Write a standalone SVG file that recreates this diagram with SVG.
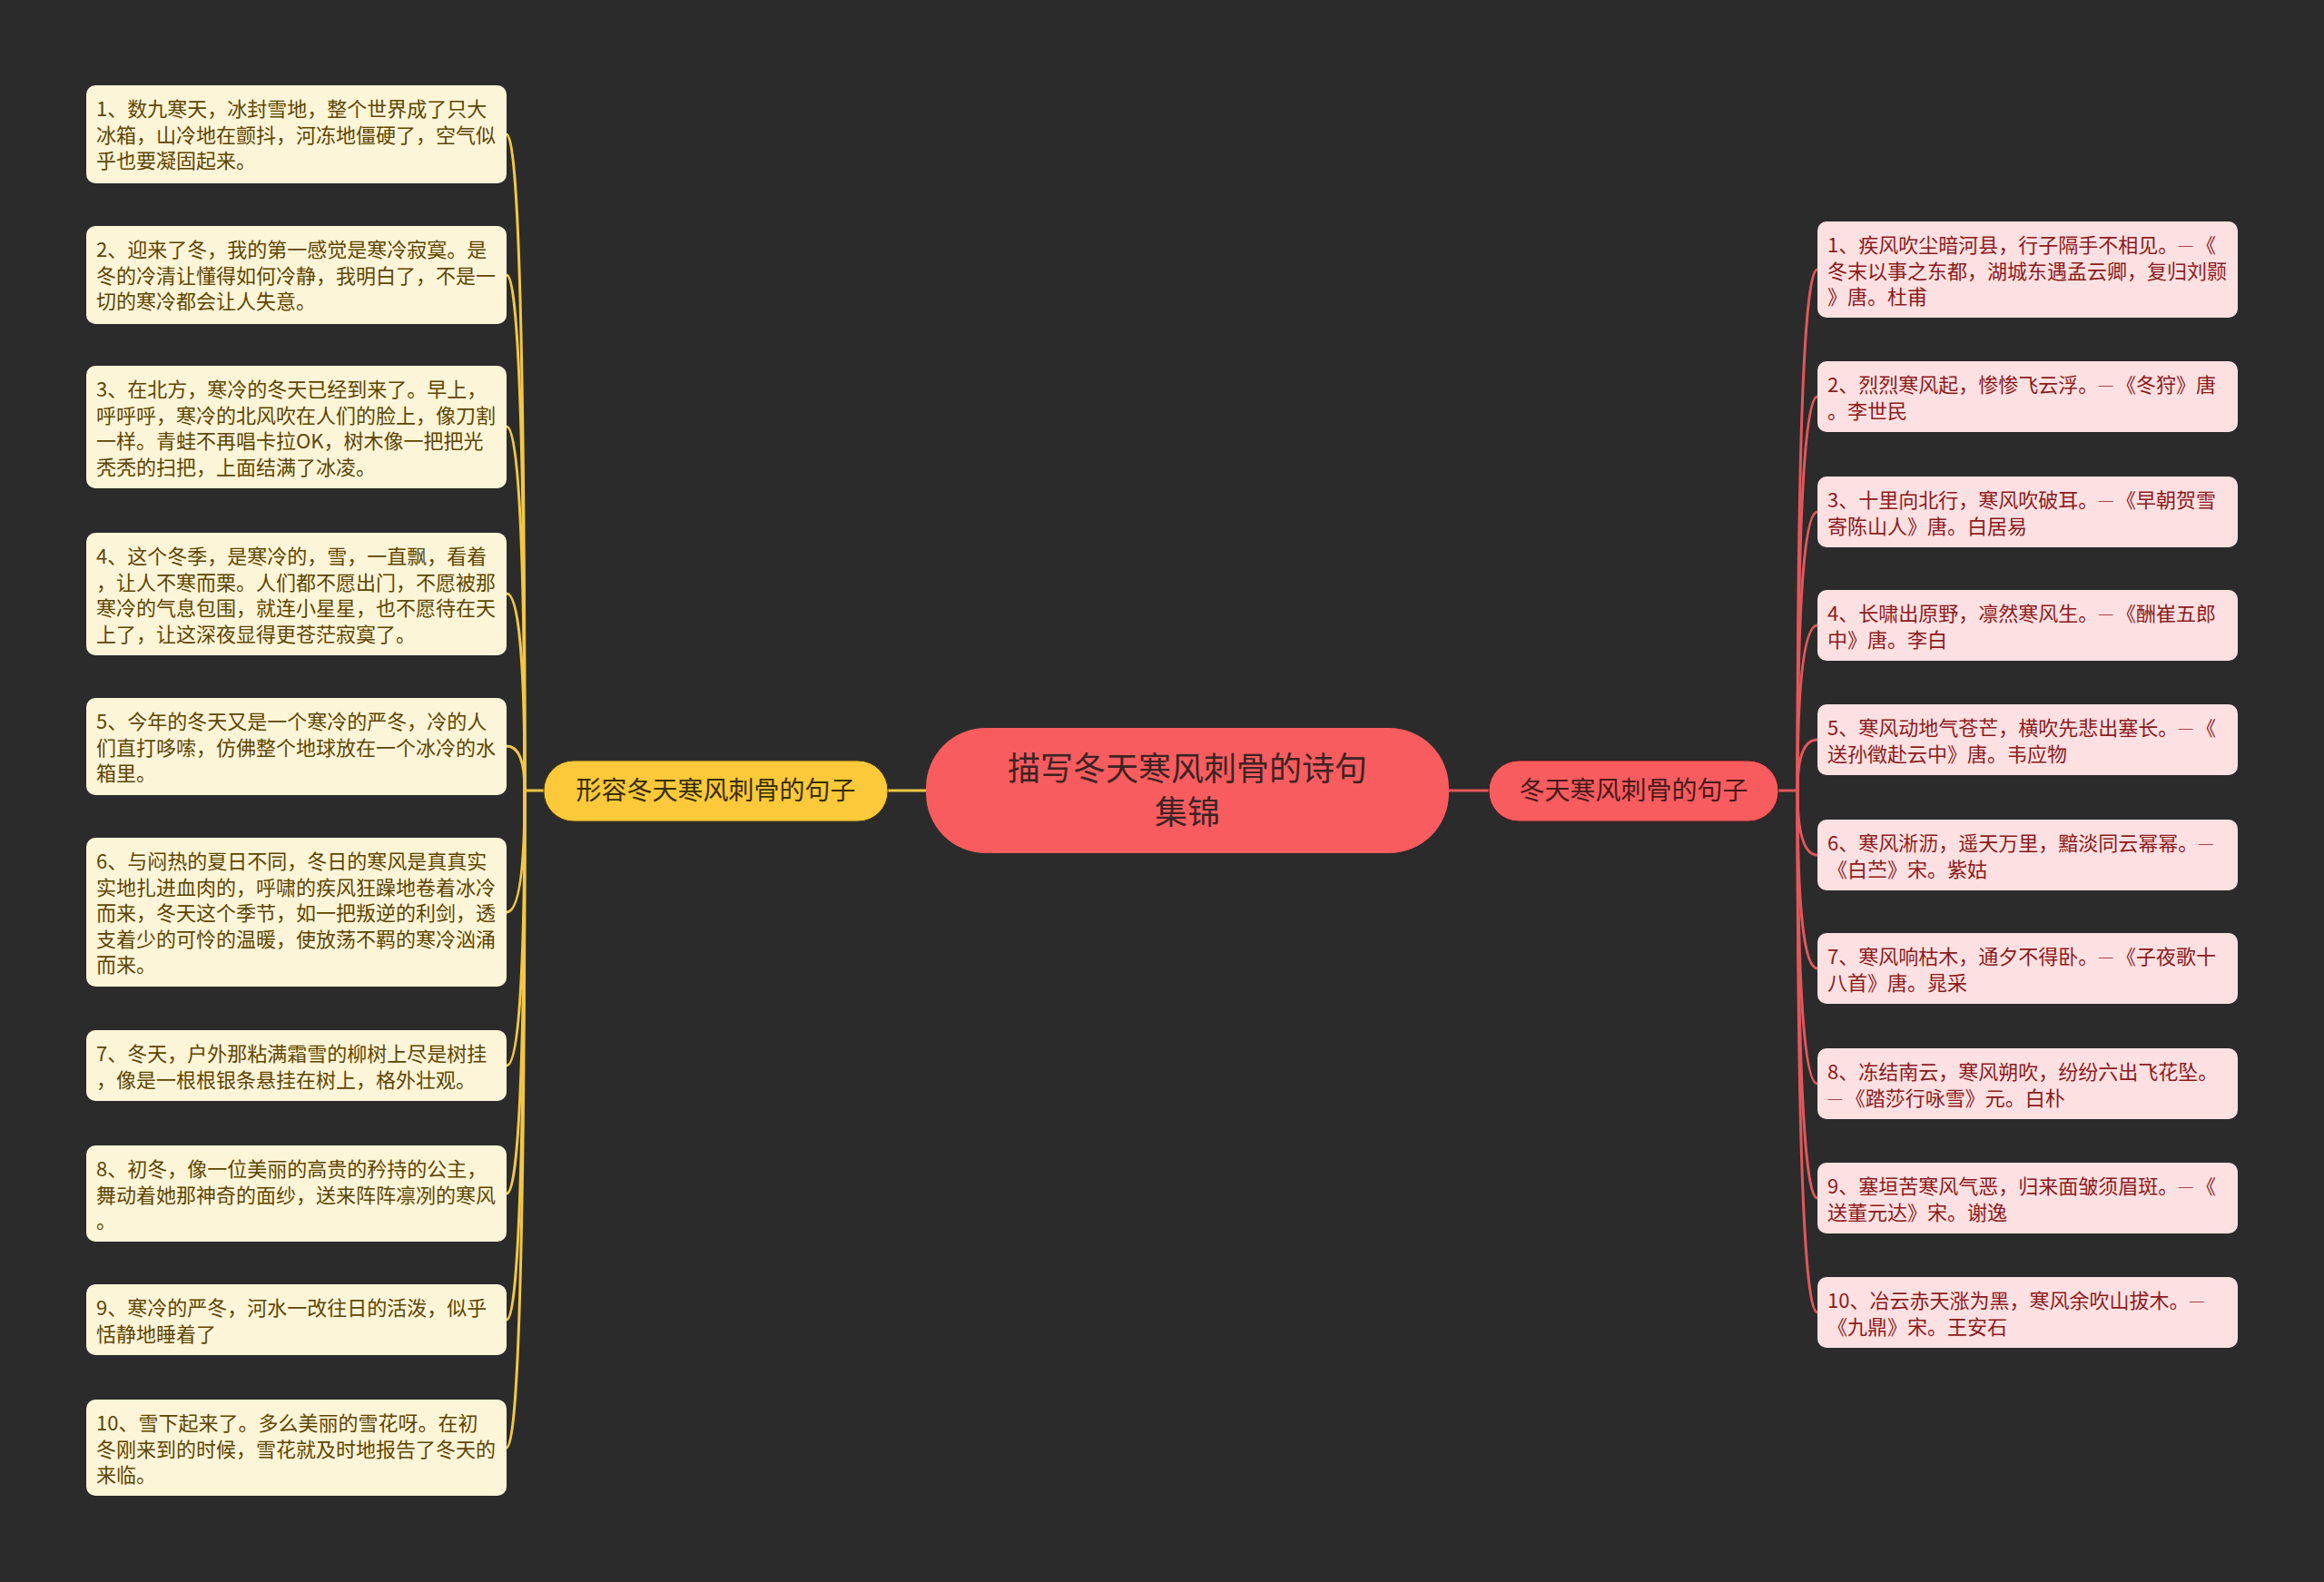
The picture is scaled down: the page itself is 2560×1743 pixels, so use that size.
<svg xmlns="http://www.w3.org/2000/svg" width="2560" height="1743" viewBox="0 0 2560 1743">
<style>
text{font-family:"Noto Sans CJK SC","Noto Sans",sans-serif}
.lf{fill:#FDF5D8}
.rf{fill:#FDE0E1}
.lt{font-size:22px;fill:#5E4500}
.rt{font-size:22px;fill:#8A1C1E}
.d{font-size:10px;letter-spacing:3px}
.yl{stroke:#F2C744;stroke-width:3;fill:none}
.rl{stroke:#E3575B;stroke-width:3;fill:none}
</style>
<rect width="2560" height="1743" fill="#2B2B2B"/>
<g id="connectors">
<path class="yl" d="M978 871H1020"/>
<path class="rl" d="M1596 871H1640"/>
<path class="yl" d="M578 871H599"/>
<path class="rl" d="M1959 871H1980"/>
<path class="yl" d="M578 871Q578 148 558 148"/>
<path class="yl" d="M578 871Q578 303 558 303"/>
<path class="yl" d="M578 871Q578 470 558 470"/>
<path class="yl" d="M578 871Q578 654 558 654"/>
<path class="yl" d="M578 871Q578 822 558 822"/>
<path class="yl" d="M578 871Q578 1005 558 1005"/>
<path class="yl" d="M578 871Q578 1174 558 1174"/>
<path class="yl" d="M578 871Q578 1315 558 1315"/>
<path class="yl" d="M578 871Q578 1454 558 1454"/>
<path class="yl" d="M578 871Q578 1595 558 1595"/>
<path class="rl" d="M1980 871Q1980 297 2002 297"/>
<path class="rl" d="M1980 871Q1980 437 2002 437"/>
<path class="rl" d="M1980 871Q1980 564 2002 564"/>
<path class="rl" d="M1980 871Q1980 689 2002 689"/>
<path class="rl" d="M1980 871Q1980 815 2002 815"/>
<path class="rl" d="M1980 871Q1980 942 2002 942"/>
<path class="rl" d="M1980 871Q1980 1067 2002 1067"/>
<path class="rl" d="M1980 871Q1980 1194 2002 1194"/>
<path class="rl" d="M1980 871Q1980 1320 2002 1320"/>
<path class="rl" d="M1980 871Q1980 1446 2002 1446"/>
</g>
<g id="center">
<rect x="1020" y="802" width="576" height="138" rx="66" fill="#F85C5F"/>
<text x="1308" y="860" text-anchor="middle" font-size="36" fill="#3E2323">描写冬天寒风刺骨的诗句</text>
<text x="1308" y="908" text-anchor="middle" font-size="36" fill="#3E2323">集锦</text>
</g>
<g id="branch-left">
<rect x="599" y="838" width="379" height="67" rx="33" fill="#FCC93A" stroke="#4a3a10" stroke-width="1"/>
<text x="788.5" y="881" text-anchor="middle" font-size="28" fill="#3A2E05">形容冬天寒风刺骨的句子</text>
</g>
<g id="branch-right">
<rect x="1640" y="838" width="319" height="67" rx="33" fill="#F85C5F" stroke="#4a1a1a" stroke-width="1"/>
<text x="1799.5" y="881" text-anchor="middle" font-size="28" fill="#4A1818">冬天寒风刺骨的句子</text>
</g>
<g id="l1"><rect class="lf" x="95" y="94" width="463" height="108" rx="10"/>
<text class="lt"><tspan x="106" y="128">1、数九寒天，冰封雪地，整个世界成了只大</tspan><tspan x="106" y="156.5">冰箱，山冷地在颤抖，河冻地僵硬了，空气似</tspan><tspan x="106" y="185">乎也要凝固起来。</tspan></text></g>
<g id="l2"><rect class="lf" x="95" y="249" width="463" height="108" rx="10"/>
<text class="lt"><tspan x="106" y="283">2、迎来了冬，我的第一感觉是寒冷寂寞。是</tspan><tspan x="106" y="311.5">冬的冷清让懂得如何冷静，我明白了，不是一</tspan><tspan x="106" y="340">切的寒冷都会让人失意。</tspan></text></g>
<g id="l3"><rect class="lf" x="95" y="403" width="463" height="135" rx="10"/>
<text class="lt"><tspan x="106" y="437">3、在北方，寒冷的冬天已经到来了。早上，</tspan><tspan x="106" y="465.5">呼呼呼，寒冷的北风吹在人们的脸上，像刀割</tspan><tspan x="106" y="494">一样。青蛙不再唱卡拉OK，树木像一把把光</tspan><tspan x="106" y="522.5">秃秃的扫把，上面结满了冰凌。</tspan></text></g>
<g id="l4"><rect class="lf" x="95" y="587" width="463" height="135" rx="10"/>
<text class="lt"><tspan x="106" y="621">4、这个冬季，是寒冷的，雪，一直飘，看着</tspan><tspan x="106" y="649.5">，让人不寒而栗。人们都不愿出门，不愿被那</tspan><tspan x="106" y="678">寒冷的气息包围，就连小星星，也不愿待在天</tspan><tspan x="106" y="706.5">上了，让这深夜显得更苍茫寂寞了。</tspan></text></g>
<g id="l5"><rect class="lf" x="95" y="769" width="463" height="107" rx="10"/>
<text class="lt"><tspan x="106" y="803">5、今年的冬天又是一个寒冷的严冬，冷的人</tspan><tspan x="106" y="831.5">们直打哆嗦，仿佛整个地球放在一个冰冷的水</tspan><tspan x="106" y="860">箱里。</tspan></text></g>
<g id="l6"><rect class="lf" x="95" y="923" width="463" height="164" rx="10"/>
<text class="lt"><tspan x="106" y="957">6、与闷热的夏日不同，冬日的寒风是真真实</tspan><tspan x="106" y="985.5">实地扎进血肉的，呼啸的疾风狂躁地卷着冰冷</tspan><tspan x="106" y="1014">而来，冬天这个季节，如一把叛逆的利剑，透</tspan><tspan x="106" y="1042.5">支着少的可怜的温暖，使放荡不羁的寒冷汹涌</tspan><tspan x="106" y="1071">而来。</tspan></text></g>
<g id="l7"><rect class="lf" x="95" y="1135" width="463" height="78" rx="10"/>
<text class="lt"><tspan x="106" y="1169">7、冬天，户外那粘满霜雪的柳树上尽是树挂</tspan><tspan x="106" y="1197.5">，像是一根根银条悬挂在树上，格外壮观。</tspan></text></g>
<g id="l8"><rect class="lf" x="95" y="1262" width="463" height="106" rx="10"/>
<text class="lt"><tspan x="106" y="1296">8、初冬，像一位美丽的高贵的矜持的公主，</tspan><tspan x="106" y="1324.5">舞动着她那神奇的面纱，送来阵阵凛冽的寒风</tspan><tspan x="106" y="1353">。</tspan></text></g>
<g id="l9"><rect class="lf" x="95" y="1415" width="463" height="78" rx="10"/>
<text class="lt"><tspan x="106" y="1449">9、寒冷的严冬，河水一改往日的活泼，似乎</tspan><tspan x="106" y="1477.5">恬静地睡着了</tspan></text></g>
<g id="l10"><rect class="lf" x="95" y="1542" width="463" height="106" rx="10"/>
<text class="lt"><tspan x="106" y="1576">10、雪下起来了。多么美丽的雪花呀。在初</tspan><tspan x="106" y="1604.5">冬刚来到的时候，雪花就及时地报告了冬天的</tspan><tspan x="106" y="1633">来临。</tspan></text></g>
<g id="r1"><rect class="rf" x="2002" y="244" width="463" height="106" rx="10"/>
<text class="rt"><tspan x="2013" y="278">1、疾风吹尘暗河县，行子隔手不相见。<tspan class="d" dy="-4">——</tspan><tspan dy="4">《</tspan></tspan><tspan x="2013" y="306.5">冬末以事之东都，湖城东遇孟云卿，复归刘颢</tspan><tspan x="2013" y="335">》唐。杜甫</tspan></text></g>
<g id="r2"><rect class="rf" x="2002" y="398" width="463" height="78" rx="10"/>
<text class="rt"><tspan x="2013" y="432">2、烈烈寒风起，惨惨飞云浮。<tspan class="d" dy="-4">——</tspan><tspan dy="4">《冬狩》唐</tspan></tspan><tspan x="2013" y="460.5">。李世民</tspan></text></g>
<g id="r3"><rect class="rf" x="2002" y="525" width="463" height="78" rx="10"/>
<text class="rt"><tspan x="2013" y="559">3、十里向北行，寒风吹破耳。<tspan class="d" dy="-4">——</tspan><tspan dy="4">《早朝贺雪</tspan></tspan><tspan x="2013" y="587.5">寄陈山人》唐。白居易</tspan></text></g>
<g id="r4"><rect class="rf" x="2002" y="650" width="463" height="78" rx="10"/>
<text class="rt"><tspan x="2013" y="684">4、长啸出原野，凛然寒风生。<tspan class="d" dy="-4">——</tspan><tspan dy="4">《酬崔五郎</tspan></tspan><tspan x="2013" y="712.5">中》唐。李白</tspan></text></g>
<g id="r5"><rect class="rf" x="2002" y="776" width="463" height="78" rx="10"/>
<text class="rt"><tspan x="2013" y="810">5、寒风动地气苍芒，横吹先悲出塞长。<tspan class="d" dy="-4">——</tspan><tspan dy="4">《</tspan></tspan><tspan x="2013" y="838.5">送孙徵赴云中》唐。韦应物</tspan></text></g>
<g id="r6"><rect class="rf" x="2002" y="903" width="463" height="78" rx="10"/>
<text class="rt"><tspan x="2013" y="937">6、寒风淅沥，遥天万里，黯淡同云幂幂。<tspan class="d" dy="-4">——</tspan></tspan><tspan x="2013" y="965.5">《白苎》宋。紫姑</tspan></text></g>
<g id="r7"><rect class="rf" x="2002" y="1028" width="463" height="78" rx="10"/>
<text class="rt"><tspan x="2013" y="1062">7、寒风响枯木，通夕不得卧。<tspan class="d" dy="-4">——</tspan><tspan dy="4">《子夜歌十</tspan></tspan><tspan x="2013" y="1090.5">八首》唐。晁采</tspan></text></g>
<g id="r8"><rect class="rf" x="2002" y="1155" width="463" height="78" rx="10"/>
<text class="rt"><tspan x="2013" y="1189">8、冻结南云，寒风朔吹，纷纷六出飞花坠。</tspan><tspan x="2013" y="1217.5"><tspan class="d" dy="-4">——</tspan><tspan dy="4">《踏莎行咏雪》元。白朴</tspan></tspan></text></g>
<g id="r9"><rect class="rf" x="2002" y="1281" width="463" height="78" rx="10"/>
<text class="rt"><tspan x="2013" y="1315">9、塞垣苦寒风气恶，归来面皱须眉斑。<tspan class="d" dy="-4">——</tspan><tspan dy="4">《</tspan></tspan><tspan x="2013" y="1343.5">送董元达》宋。谢逸</tspan></text></g>
<g id="r10"><rect class="rf" x="2002" y="1407" width="463" height="78" rx="10"/>
<text class="rt"><tspan x="2013" y="1441">10、冶云赤天涨为黑，寒风余吹山拔木。<tspan class="d" dy="-4">——</tspan></tspan><tspan x="2013" y="1469.5">《九鼎》宋。王安石</tspan></text></g>
</svg>
